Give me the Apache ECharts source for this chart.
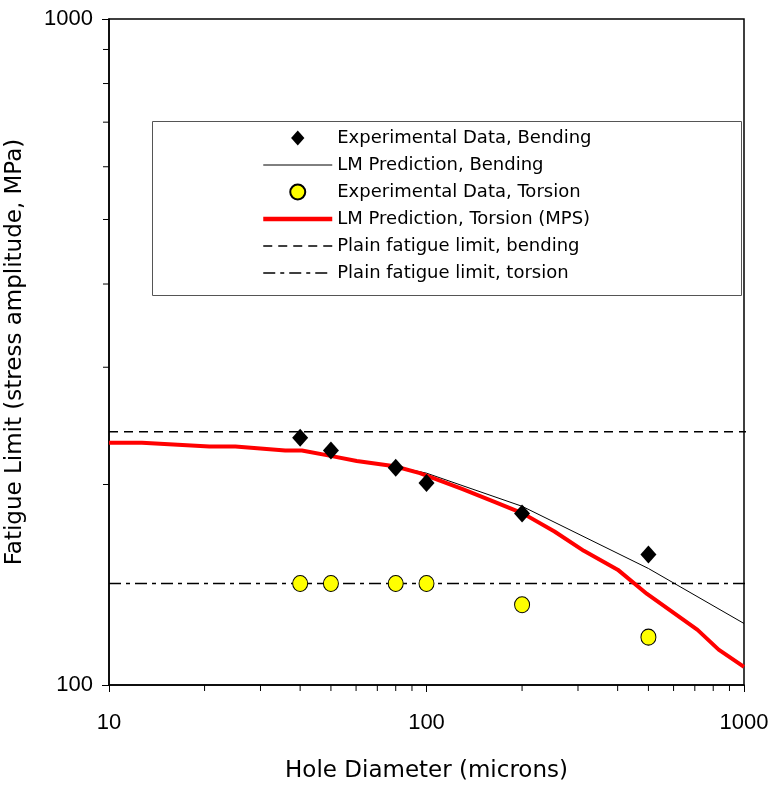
<!DOCTYPE html>
<html>
<head>
<meta charset="utf-8">
<script src="https://cdn.jsdelivr.net/npm/echarts@6/dist/echarts.min.js"></script>
<style>
  html, body { margin: 0; padding: 0; background: #fff; }
  #main { width: 768px; height: 787px; }
</style>
</head>
<body>
<div id="main"></div>
<script>
// experimental points (hole diameter, microns)
var holeDiam = [40, 50, 80, 100, 200, 500]
var bendingExp = [235, 225, 212, 201, 181, 157]
var torsionExp = [142, 142, 142, 142, 132, 118]

// LM prediction, torsion (MPS)
var torsionLMx = [10, 12.7, 20.7, 25, 35.9, 40.5, 49.4, 60.3, 79.4, 95.3, 129.4, 165.2, 201, 253, 313, 400, 495, 714, 832, 1000]
var torsionLMy = [231, 231, 228, 228, 225, 225, 221, 217, 213, 208, 197, 188, 181, 170, 159, 149, 137, 121, 113, 106.5]

// LM prediction, bending
var bendingLMx = [10, 12.7, 20.7, 25, 35.9, 40.5, 49.4, 60.3, 79.4, 100, 200, 500, 1000]
var bendingLMy = [231, 231, 228, 228, 225, 225, 221, 217, 213, 208, 185.5, 149.6, 123.7]

// plain fatigue limits
var limitX = [10, 1200]
var plainBending = 240
var plainTorsion = 142

// minor ticks of the log axes
var xMinorTicks = [20, 30, 40, 50, 60, 70, 80, 90, 200, 300, 400, 500, 600, 700, 800, 900]
var yMinorTicks = [200, 300, 400, 500, 600, 700, 800, 900]

function pairs(xs, ys) {
  return xs.map(function (x, i) { return [x, ys[i]] })
}

var chart = echarts.init(document.getElementById('main'))

var textFont = 'DejaVu Sans, sans-serif'
var numFont = 'Liberation Sans, Arial, sans-serif'
var noSymbol = { opacity: 0 }

chart.setOption({
  animation: false,
  grid: {
    left: 109,
    right: 24,
    top: 19,
    bottom: 102,
    outerBoundsMode: 'none',
    show: true,
    borderColor: '#000',
    borderWidth: 1.5
  },
  legend: {
    orient: 'vertical',
    left: 261,
    top: 128,
    padding: 0,
    itemWidth: 69,
    itemHeight: 15,
    itemGap: 7,
    symbolKeepAspect: true,
    selectedMode: false,
    textStyle: { fontFamily: textFont, fontSize: 18, color: '#000', lineHeight: 20 },
    data: [
      { name: 'Experimental Data, Bending', icon: 'path://M0,-9L8,0L0,9L-8,0Z' },
      { name: 'LM Prediction, Bending', itemStyle: noSymbol, lineStyle: { width: 1 } },
      { name: 'Experimental Data, Torsion' },
      { name: 'LM Prediction, Torsion (MPS)', itemStyle: noSymbol, lineStyle: { width: 4.5 } },
      { name: 'Plain fatigue limit, bending', itemStyle: noSymbol, lineStyle: { width: 1.5 } },
      { name: 'Plain fatigue limit, torsion', itemStyle: noSymbol, lineStyle: { width: 1.5 } }
    ]
  },
  graphic: [{
    type: 'rect',
    shape: { x: 152.5, y: 121.5, width: 589, height: 174 },
    style: { fill: 'none', stroke: '#555', lineWidth: 1 },
    z: 1
  }],
  xAxis: {
    type: 'log',
    logBase: 10,
    min: 10,
    max: 1000,
    name: 'Hole Diameter (microns)',
    nameLocation: 'middle',
    nameGap: 75,
    nameTextStyle: { fontFamily: textFont, fontSize: 23, color: '#000' },
    axisLine: { lineStyle: { color: '#000', width: 1.5 } },
    axisTick: { show: true, length: 7, lineStyle: { color: '#000' } },
    axisLabel: {
      fontFamily: numFont, fontSize: 22, color: '#000', margin: 27,
      formatter: function (v) { return String(v) }
    },
    splitLine: { show: false }
  },
  yAxis: {
    type: 'log',
    logBase: 10,
    min: 100,
    max: 1000,
    name: 'Fatigue Limit (stress amplitude, MPa)',
    nameLocation: 'middle',
    nameGap: 82,
    nameTextStyle: { fontFamily: textFont, fontSize: 23, color: '#000' },
    axisLine: { lineStyle: { color: '#000', width: 1.5 } },
    axisTick: { show: true, length: 7, lineStyle: { color: '#000' } },
    axisLabel: {
      fontFamily: numFont, fontSize: 22, color: '#000', margin: 16,
      formatter: function (v) { return String(v) }
    },
    splitLine: { show: false }
  },
  series: [
    {
      name: 'Plain fatigue limit, bending',
      type: 'line',
      symbol: 'none',
      clip: false,
      data: limitX.map(function (x) { return [x, plainBending] }),
      lineStyle: { color: '#000', width: 1.5, type: [9, 6] },
      itemStyle: { color: '#000' },
      z: 2
    },
    {
      name: 'Plain fatigue limit, torsion',
      type: 'line',
      symbol: 'none',
      clip: false,
      data: limitX.map(function (x) { return [x, plainTorsion] }),
      lineStyle: { color: '#000', width: 1.5, type: [12, 5, 4, 5] },
      itemStyle: { color: '#000' },
      z: 2
    },
    {
      name: 'LM Prediction, Bending',
      type: 'line',
      symbol: 'none',
      data: pairs(bendingLMx, bendingLMy),
      lineStyle: { color: '#000', width: 1 },
      itemStyle: { color: '#000' },
      z: 3
    },
    {
      name: 'LM Prediction, Torsion (MPS)',
      type: 'line',
      symbol: 'none',
      data: pairs(torsionLMx, torsionLMy),
      lineStyle: { color: '#ff0000', width: 4 },
      itemStyle: { color: '#ff0000' },
      z: 4
    },
    {
      name: 'Experimental Data, Bending',
      type: 'scatter',
      symbol: 'diamond',
      symbolSize: [16, 18],
      data: pairs(holeDiam, bendingExp),
      itemStyle: { color: '#000', opacity: 1 },
      z: 5
    },
    {
      name: 'Experimental Data, Torsion',
      type: 'scatter',
      symbol: 'circle',
      symbolSize: [15, 16],
      data: pairs(holeDiam, torsionExp),
      itemStyle: { color: '#ffff00', borderColor: '#000', borderWidth: 1, opacity: 1 },
      z: 5
    },
    {
      // minor ticks on the x axis
      type: 'custom',
      silent: true,
      clip: false,
      data: xMinorTicks,
      encode: { x: 0 },
      renderItem: function (params, api) {
        var p = api.coord([api.value(0), 100])
        return { type: 'line', shape: { x1: p[0], y1: p[1], x2: p[0], y2: p[1] + 6 }, style: { stroke: '#000', lineWidth: 1 } }
      },
      z: 6
    },
    {
      // minor ticks on the y axis
      type: 'custom',
      silent: true,
      clip: false,
      data: yMinorTicks.map(function (v) { return [10, v] }),
      renderItem: function (params, api) {
        var p = api.coord([10, api.value(1)])
        return { type: 'line', shape: { x1: p[0] - 6, y1: p[1], x2: p[0], y2: p[1] }, style: { stroke: '#000', lineWidth: 1 } }
      },
      z: 6
    }
  ]
})
</script>
</body>
</html>
